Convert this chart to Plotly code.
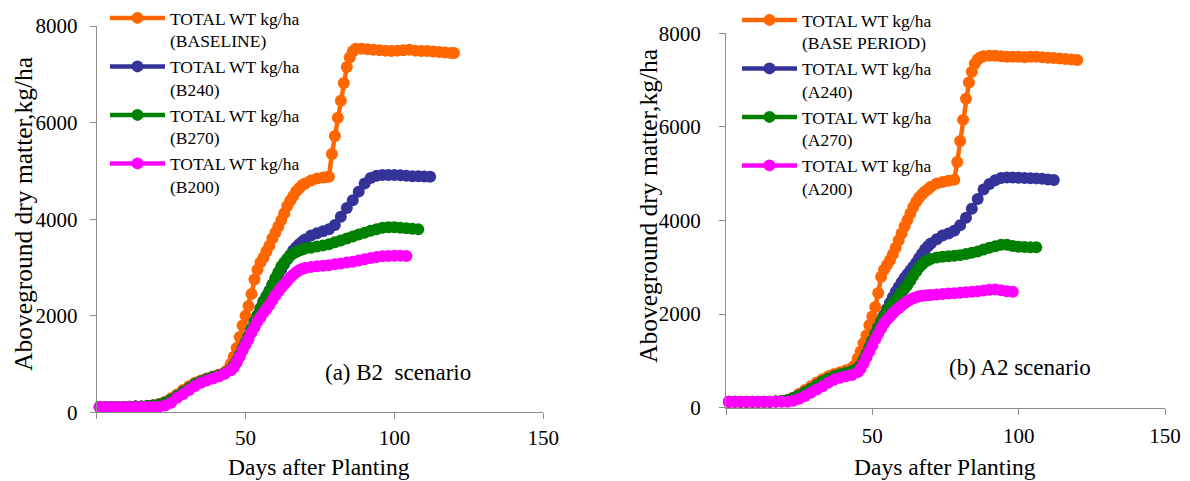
import plotly.graph_objects as go

# ---------------- data: (a) B2 scenario ----------------
B2_BASE_DAYS = [1, 3, 5, 7, 9, 11, 13, 15, 17, 19, 21, 23, 25, 27, 29, 31, 33, 35, 37, 39,
                41, 43, 44, 45, 46, 47, 48, 49, 50, 51, 52, 53, 54, 55, 56, 57, 58, 59, 60, 61,
                62, 63, 64, 65, 66, 67, 68, 69, 70, 72, 74, 76, 77, 78, 79, 80, 81, 82, 83, 84,
                85, 86, 87, 89, 91, 93, 95, 97, 99, 101, 103, 105, 107, 109, 111, 113, 115, 117, 119, 120]
B2_BASE_WT = [110, 110, 110, 110, 112, 115, 118, 122, 130, 145, 170, 220, 290, 370, 460, 540, 610, 660, 700, 740,
              780, 830, 880, 1000, 1150, 1330, 1560, 1800, 2000, 2200, 2450, 2750, 2950, 3100, 3200, 3330, 3450, 3600, 3720, 3850,
              3980, 4120, 4270, 4380, 4480, 4580, 4640, 4700, 4740, 4800, 4840, 4860, 4870, 4880, 5350, 5720, 6100, 6450, 6820, 7150,
              7350, 7470, 7530, 7530, 7520, 7510, 7500, 7490, 7480, 7490, 7500, 7510, 7490, 7480, 7480, 7470, 7460, 7450, 7440, 7440]

# day grids: every 2 days early, daily through the steep rise, every 2 days after
B2_240_DAYS = list(range(1, 45, 2)) + list(range(45, 71)) + list(range(72, 113, 2))
B2_240_WT = [110, 110, 110, 110, 112, 115, 118, 122, 128, 140, 160, 200, 260, 340, 420, 500, 580, 640, 690, 730, 760, 810,
             880, 960, 1060, 1180, 1310,
             1440, 1580, 1720, 1870, 2010, 2160, 2300, 2410, 2520, 2640, 2750, 2860, 2960, 3070, 3170, 3260, 3350, 3420, 3480, 3530, 3580,
             3660, 3710, 3750, 3790, 3880, 4050, 4230, 4390, 4570, 4740, 4850, 4900, 4915, 4915, 4915, 4910, 4900, 4890, 4890, 4885, 4880]

B2_270_DAYS = list(range(1, 45, 2)) + list(range(45, 71)) + list(range(72, 109, 2))
B2_270_WT = [110, 110, 110, 110, 112, 115, 118, 122, 128, 140, 160, 200, 260, 340, 420, 500, 580, 640, 690, 730, 760, 810,
             880, 960, 1060, 1180, 1310,
             1440, 1580, 1720, 1860, 2000, 2140, 2280, 2390, 2500, 2640, 2780, 2900, 3020, 3100, 3180, 3240, 3290, 3320, 3350, 3370, 3390,
             3410, 3435, 3455, 3480, 3520, 3560, 3600, 3640, 3680, 3720, 3760, 3790, 3820, 3830, 3830, 3820, 3810, 3800, 3790]

B2_200_DAYS = list(range(1, 45, 2)) + list(range(45, 71)) + list(range(72, 105, 2))
B2_200_WT = [110, 110, 110, 110, 110, 110, 110, 110, 110, 110, 115, 140, 200, 300, 380, 460, 545, 610, 660, 700, 740, 800,
             870, 930, 1030, 1150, 1280,
             1400, 1520, 1650, 1760, 1880, 1970, 2060, 2140, 2220, 2320, 2420, 2500, 2580, 2650, 2720, 2790, 2850, 2900, 2940, 2970, 2990,
             3010, 3025, 3035, 3045, 3065, 3080, 3100, 3120, 3145, 3170, 3195, 3215, 3230, 3235, 3240, 3240, 3235]

# ---------------- data: (b) A2 scenario ----------------
A2_BASE_DAYS = [1, 3, 5, 7, 9, 11, 13, 15, 17, 19, 21, 23, 25, 27, 29, 31, 33, 35, 37, 39, 41, 43,
                44, 45, 46, 47, 48, 49, 50, 51, 52, 53, 54, 55, 56, 57, 58, 59, 60, 61, 62, 63, 64, 65, 66, 67, 68, 69, 70,
                72, 74, 76, 78,
                79, 80, 81, 82, 83, 84, 85, 86, 87, 88,
                90, 92, 94, 96, 98, 100, 102, 104, 106, 108, 110, 112, 114, 116, 118, 120]
A2_BASE_WT = [120, 120, 120, 120, 120, 122, 125, 128, 135, 145, 165, 220, 300, 380, 460, 540, 610, 670, 720, 760, 800, 850,
              900, 1050, 1200, 1380, 1550, 1760, 1950, 2150, 2450, 2800, 2950, 3050, 3150, 3280, 3420, 3580, 3720, 3870, 4010, 4150, 4290, 4400, 4490, 4560, 4620, 4670, 4720,
              4790, 4820, 4850, 4870,
              5250, 5700, 6150, 6600, 6950, 7180, 7350, 7440, 7490, 7510,
              7520, 7520, 7510, 7500, 7500, 7500, 7490, 7500, 7500, 7490, 7480, 7470, 7460, 7450, 7440, 7430]

A2_240_DAYS = list(range(1, 45, 2)) + list(range(45, 71)) + list(range(72, 113, 2))
A2_240_WT = [125, 125, 125, 125, 125, 125, 125, 125, 130, 140, 160, 200, 260, 330, 400, 480, 560, 620, 670, 710, 740, 780,
             840, 900, 1020, 1150, 1290,
             1430, 1580, 1720, 1850, 1980, 2110, 2240, 2360, 2480, 2580, 2680, 2770, 2850, 2930, 3010, 3100, 3200, 3290, 3380, 3450, 3510,
             3600, 3680, 3720, 3780, 3900, 4060, 4250, 4460, 4660, 4780, 4860, 4910, 4920, 4920, 4915, 4910, 4905, 4900, 4890, 4875, 4865]

A2_270_DAYS = list(range(1, 45, 2)) + list(range(45, 71)) + list(range(72, 107, 2))
A2_270_WT = [125, 125, 125, 125, 125, 125, 125, 125, 130, 140, 160, 200, 260, 330, 400, 480, 560, 620, 670, 710, 740, 780,
             840, 900, 1020, 1150, 1290,
             1430, 1570, 1710, 1830, 1950, 2050, 2150, 2230, 2300, 2380, 2460, 2540, 2620, 2720, 2820, 2910, 3000, 3060, 3120, 3150, 3180,
             3210, 3225, 3235, 3245, 3260, 3285, 3310, 3340, 3380, 3420, 3450, 3480, 3480, 3455, 3440, 3435, 3430, 3430]

A2_200_DAYS = list(range(1, 45, 2)) + list(range(45, 71)) + list(range(72, 99, 2))
A2_200_WT = [125, 125, 125, 125, 125, 125, 125, 125, 125, 125, 125, 150, 190, 250, 320, 390, 460, 540, 600, 640, 670, 700,
             760, 830, 950, 1080, 1200,
             1330, 1460, 1580, 1690, 1800, 1880, 1950, 2020, 2080, 2130, 2180, 2230, 2280, 2310, 2340, 2360, 2380, 2390, 2400, 2405, 2410,
             2420, 2430, 2440, 2445, 2455, 2465, 2475, 2490, 2505, 2520, 2525, 2510, 2490, 2480]

B2_NAMES = ["TOTAL WT kg/ha<br>(BASELINE)", "TOTAL WT kg/ha<br>(B240)",
            "TOTAL WT kg/ha<br>(B270)", "TOTAL WT kg/ha<br>(B200)"]
A2_NAMES = ["TOTAL WT kg/ha<br>(BASE PERIOD)", "TOTAL WT kg/ha<br>(A240)",
            "TOTAL WT kg/ha<br>(A270)", "TOTAL WT kg/ha<br>(A200)"]
COLORS = ["#FF6600", "#333399", "#008000", "#FF00FF"]

X_TICKS = [0, 50, 100, 150]
X_TICKTEXT = ["", "50", "100", "150"]
Y_TICKS = [0, 2000, 4000, 6000, 8000]

FONT = "Liberation Serif, Times New Roman, serif"
AXIS_GREY = "#8c8c8c"

fig = go.Figure()

b2_series = [(B2_BASE_DAYS, B2_BASE_WT), (B2_240_DAYS, B2_240_WT),
             (B2_270_DAYS, B2_270_WT), (B2_200_DAYS, B2_200_WT)]
a2_series = [(A2_BASE_DAYS, A2_BASE_WT), (A2_240_DAYS, A2_240_WT),
             (A2_270_DAYS, A2_270_WT), (A2_200_DAYS, A2_200_WT)]

for (d, w), name, col in zip(b2_series, B2_NAMES, COLORS):
    assert len(d) == len(w), (name, len(d), len(w))
    fig.add_trace(go.Scatter(x=d, y=w, name=name, mode="lines+markers",
                             line=dict(color=col, width=4.5),
                             marker=dict(color=col, size=12),
                             cliponaxis=False,
                             xaxis="x", yaxis="y", legend="legend"))

for (d, w), name, col in zip(a2_series, A2_NAMES, COLORS):
    assert len(d) == len(w), (name, len(d), len(w))
    fig.add_trace(go.Scatter(x=d, y=w, name=name, mode="lines+markers",
                             line=dict(color=col, width=4.5),
                             marker=dict(color=col, size=12),
                             cliponaxis=False,
                             xaxis="x2", yaxis="y2", legend="legend2"))

W, H = 1190, 481


def px_x(p):
    return p / W


def px_y(p):
    return 1 - p / H


axis_common = dict(showline=True, linecolor=AXIS_GREY, linewidth=1,
                   ticks="outside", tickcolor=AXIS_GREY, ticklen=6, tickwidth=1,
                   showgrid=False, zeroline=False,
                   tickfont=dict(family=FONT, size=21, color="black"))

legend_common = dict(font=dict(family=FONT, size=17.5, color="black"),
                     bgcolor="rgba(0,0,0,0)", borderwidth=0,
                     xanchor="left", yanchor="top", valign="top",
                     itemwidth=55, tracegroupgap=0, traceorder="normal")

fig.update_layout(
    width=W, height=H,
    margin=dict(l=0, r=0, t=0, b=0, autoexpand=False),
    paper_bgcolor="white", plot_bgcolor="white",
    font=dict(family=FONT, color="black"),
    xaxis=dict(domain=[px_x(96.7), px_x(543.3)], range=[0, 150], anchor="y", automargin=False,
               tickvals=X_TICKS, ticktext=X_TICKTEXT, ticklabelstandoff=0, **axis_common),
    yaxis=dict(domain=[px_y(412.3), px_y(26)], range=[0, 8000], anchor="x", automargin=False,
               tickvals=Y_TICKS, ticklabelstandoff=8, **axis_common),
    xaxis2=dict(domain=[px_x(726), px_x(1165)], range=[0, 150], anchor="y2", automargin=False,
                tickvals=X_TICKS, ticktext=X_TICKTEXT, ticklabelstandoff=3, **axis_common),
    yaxis2=dict(domain=[px_y(407.7), px_y(33.3)], range=[0, 8000], anchor="x2", automargin=False,
                tickvals=Y_TICKS, ticklabelstandoff=14, **axis_common),
    legend=dict(x=px_x(105), y=px_y(0), **legend_common),
    legend2=dict(x=px_x(737), y=px_y(2), **legend_common),
    showlegend=True,
)

ann = []
ytitle_font = dict(family=FONT, size=25.5, color="black")
xtitle_font = dict(family=FONT, size=23.5, color="black")
ann.append(dict(text="Aboveground dry matter,kg/ha", x=px_x(23), y=px_y(214), xref="paper", yref="paper",
                textangle=-90, showarrow=False, xanchor="center", yanchor="middle", font=ytitle_font))
ann.append(dict(text="Aboveground dry matter,kg/ha", x=px_x(648), y=px_y(206), xref="paper", yref="paper",
                textangle=-90, showarrow=False, xanchor="center", yanchor="middle", font=ytitle_font))
ann.append(dict(text="Days after Planting", x=px_x(319), y=px_y(467), xref="paper", yref="paper",
                showarrow=False, xanchor="center", yanchor="middle", font=xtitle_font))
ann.append(dict(text="Days after Planting", x=px_x(945), y=px_y(467), xref="paper", yref="paper",
                showarrow=False, xanchor="center", yanchor="middle", font=xtitle_font))
scen_font = dict(family=FONT, size=23, color="black")
ann.append(dict(text="(a) B2  scenario", x=px_x(398), y=px_y(372), xref="paper", yref="paper",
                showarrow=False, xanchor="center", yanchor="middle", font=scen_font))
ann.append(dict(text="(b) A2 scenario", x=px_x(1020), y=px_y(367), xref="paper", yref="paper",
                showarrow=False, xanchor="center", yanchor="middle", font=scen_font))
fig.update_layout(annotations=ann)

fig.write_html("out.html",
               config={"displayModeBar": False},
               post_script="document.body.style.margin='0';document.body.style.overflow='hidden';")
